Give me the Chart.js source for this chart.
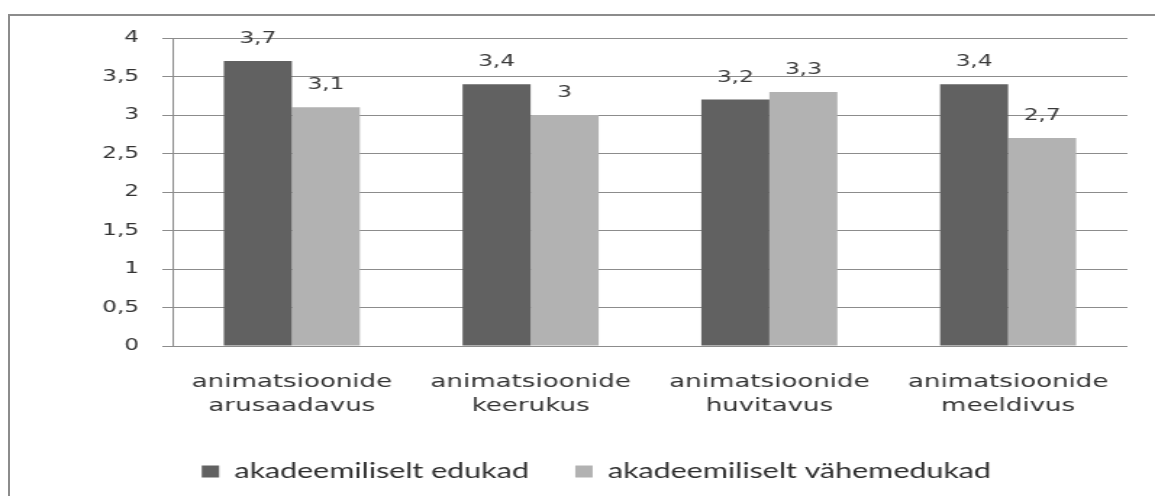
<!DOCTYPE html>
<html>
<head>
<meta charset="utf-8">
<script src="https://cdn.jsdelivr.net/npm/chart.js@4/dist/chart.umd.min.js"></script>
<style>
    html, body { margin: 0; padding: 0; background: #fff; overflow: hidden; }
    #frame {
        position: absolute; left: 8px; top: 14px;
        width: 1200px; height: 600px;
        border: 2px solid #8c8c8c;
    }
    #wrap {
        position: absolute; left: 0; top: 0;
        width: 797px; height: 496px;
        transform-origin: 0 0;
        transform: scaleX(1.4492);
    }
</style>
</head>
<body>
<div id="frame"></div>
<!-- the source picture is stretched sideways, so the canvas is drawn narrow and scaled up -->
<div id="wrap"><canvas id="chart" width="797" height="496" style="width:797px;height:496px"></canvas></div>
<script>
const categories = [
    ['animatsioonide', 'arusaadavus'],
    ['animatsioonide', 'keerukus'],
    ['animatsioonide', 'huvitavus'],
    ['animatsioonide', 'meeldivus']
];
const seriesNames = ['akadeemiliselt edukad', 'akadeemiliselt vähemedukad'];
const edukad = [3.7, 3.4, 3.2, 3.4];
const vahemEdukad = [3.1, 3.0, 3.3, 2.7];
const yTicks = [0, 0.5, 1, 1.5, 2, 2.5, 3, 3.5, 4];

function comma(v) {
    return String(v).replace('.', ',');
}

// väärtused tulpade kohale
const valueLabels = {
    id: 'valueLabels',
    afterDatasetsDraw(chart) {
        const ctx = chart.ctx;
        ctx.save();
        ctx.font = '16px "DejaVu Sans", Verdana, sans-serif';
        ctx.fillStyle = '#3a3a3a';
        ctx.textAlign = 'center';
        ctx.textBaseline = 'middle';
        chart.data.datasets.forEach((ds, i) => {
            chart.getDatasetMeta(i).data.forEach((bar, j) => {
                ctx.fillText(comma(ds.data[j]), bar.x, bar.y - 22);
            });
        });
        ctx.restore();
    }
};

new Chart(document.getElementById('chart'), {
    type: 'bar',
    data: {
        labels: categories,
        datasets: [{
            label: seriesNames[0],
            data: edukad,
            backgroundColor: '#616161'
        }, {
            label: seriesNames[1],
            data: vahemEdukad,
            backgroundColor: '#b2b2b2'
        }]
    },
    options: {
        responsive: false,
        animation: false,
        categoryPercentage: 0.57,
        barPercentage: 1,
        layout: {
            padding: { top: 38, right: 19, bottom: 4, left: 45 }
        },
        plugins: {
            tooltip: { enabled: false },
            legend: {
                position: 'bottom',
                labels: {
                    boxWidth: 12,
                    boxHeight: 12,
                    padding: 32,
                    color: '#2e2e2e',
                    font: { family: 'Lato', size: 21 }
                }
            }
        },
        scales: {
            x: {
                grid: { display: false, drawTicks: false },
                border: { display: false },
                ticks: {
                    padding: 24,
                    color: '#333',
                    font: { family: '"DejaVu Sans", Verdana, sans-serif', size: 18, lineHeight: 1.333 }
                },
                afterFit: (scale) => { scale.height = 83; }
            },
            y: {
                min: 0,
                max: 4,
                afterBuildTicks: (scale) => {
                    scale.ticks = yTicks.map(v => ({ value: v }));
                },
                grid: { color: '#8c8c8c', tickLength: 7, tickColor: '#8c8c8c' },
                border: { display: true, color: '#8c8c8c' },
                ticks: {
                    padding: 16,
                    color: '#333',
                    font: { family: '"DejaVu Sans", Verdana, sans-serif', size: 16 },
                    callback: (v) => comma(v)
                },
                afterFit: (scale) => { scale.width = 74; }
            }
        }
    },
    plugins: [valueLabels]
});
</script>
</body>
</html>
